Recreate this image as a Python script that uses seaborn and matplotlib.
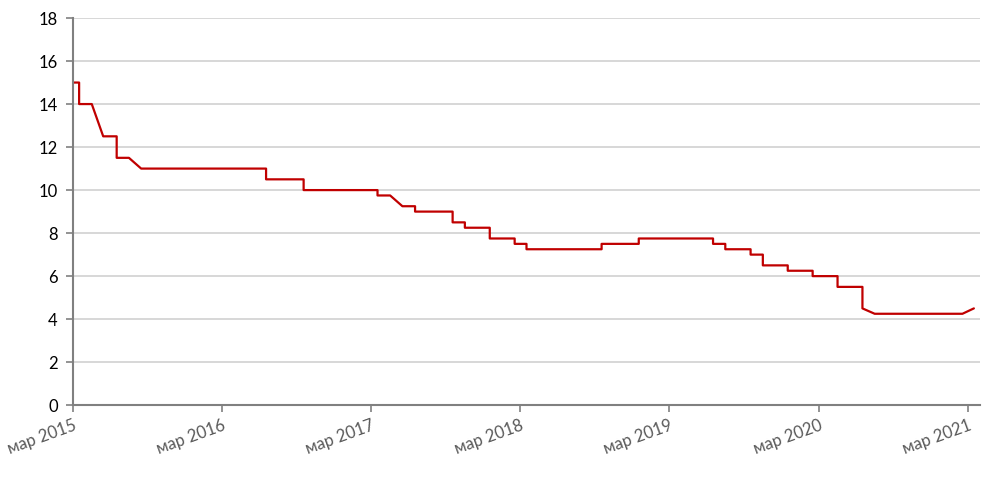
import pandas as pd
import matplotlib
matplotlib.use('Agg')
import matplotlib.pyplot as plt
import seaborn as sns

# key rate points (pairs on one date make the vertical steps)
dates = [
    '2015-03-01', '2015-03-16', '2015-03-16', '2015-04-16', '2015-05-14',
    '2015-06-16', '2015-06-16', '2015-07-16', '2015-08-15', '2016-06-16',
    '2016-06-16', '2016-09-16', '2016-09-16', '2017-03-16', '2017-03-16',
    '2017-04-16', '2017-05-16', '2017-06-16', '2017-06-16', '2017-09-16',
    '2017-09-16', '2017-10-16', '2017-10-16', '2017-12-16', '2017-12-16',
    '2018-02-15', '2018-02-15', '2018-03-16', '2018-03-16', '2018-09-16',
    '2018-09-16', '2018-12-16', '2018-12-16', '2019-06-16', '2019-06-16',
    '2019-07-16', '2019-07-16', '2019-09-16', '2019-09-16', '2019-10-16',
    '2019-10-16', '2019-12-16', '2019-12-16', '2020-02-15', '2020-02-15',
    '2020-04-16', '2020-04-16', '2020-06-16', '2020-06-16', '2020-07-16',
    '2021-02-16', '2021-03-16',
]
rates = [
    15, 15, 14, 14, 12.5,
    12.5, 11.5, 11.5, 11, 11,
    10.5, 10.5, 10, 10, 9.75,
    9.75, 9.25, 9.25, 9, 9,
    8.5, 8.5, 8.25, 8.25, 7.75,
    7.75, 7.5, 7.5, 7.25, 7.25,
    7.5, 7.5, 7.75, 7.75, 7.5,
    7.5, 7.25, 7.25, 7.0, 7.0,
    6.5, 6.5, 6.25, 6.25, 6.0,
    6.0, 5.5, 5.5, 4.5, 4.25,
    4.25, 4.5,
]
tick_dates = ['2015-03-01', '2016-03-01', '2017-03-01', '2018-03-01',
              '2019-03-01', '2020-03-01', '2021-03-01']
tick_labels = ['мар 2015', 'мар 2016', 'мар 2017', 'мар 2018',
               'мар 2019', 'мар 2020', 'мар 2021']

df = pd.DataFrame({'date': pd.to_datetime(dates), 'rate': rates})

sns.set_style('white')
plt.rcParams['font.family'] = ['Lato', 'DejaVu Sans']

fig = plt.figure(figsize=(10, 4.87), dpi=100)
ax = fig.add_axes([0.073, 0.168, 0.907, 0.795])

sns.lineplot(data=df, x='date', y='rate', ax=ax, color='#C00000',
             linewidth=1.6, estimator=None, sort=False)

ax.set_xlim(pd.Timestamp('2015-03-01'), pd.Timestamp('2021-03-31'))
ax.set_ylim(0, 18)
ax.set_yticks(range(0, 19, 2))
ax.yaxis.grid(True, color='#D4D4D4', linewidth=1.3)
ax.set_axisbelow(True)

ax.set_xticks(pd.to_datetime(tick_dates))
ax.set_xticklabels(tick_labels, rotation=20, ha='right',
                   rotation_mode='anchor', color='#595959', fontsize=12)
ax.tick_params(axis='y', labelsize=12, labelcolor='#000000', pad=6)
ax.tick_params(axis='both', direction='out', length=5, width=1.2,
               color='#808080', bottom=True, left=True)

for side in ['top', 'right']:
    ax.spines[side].set_visible(False)
for side in ['left', 'bottom']:
    ax.spines[side].set_color('#808080')
    ax.spines[side].set_linewidth(1.5)

ax.set_xlabel('')
ax.set_ylabel('')

plt.savefig('out.png', dpi=100)
plt.close()
